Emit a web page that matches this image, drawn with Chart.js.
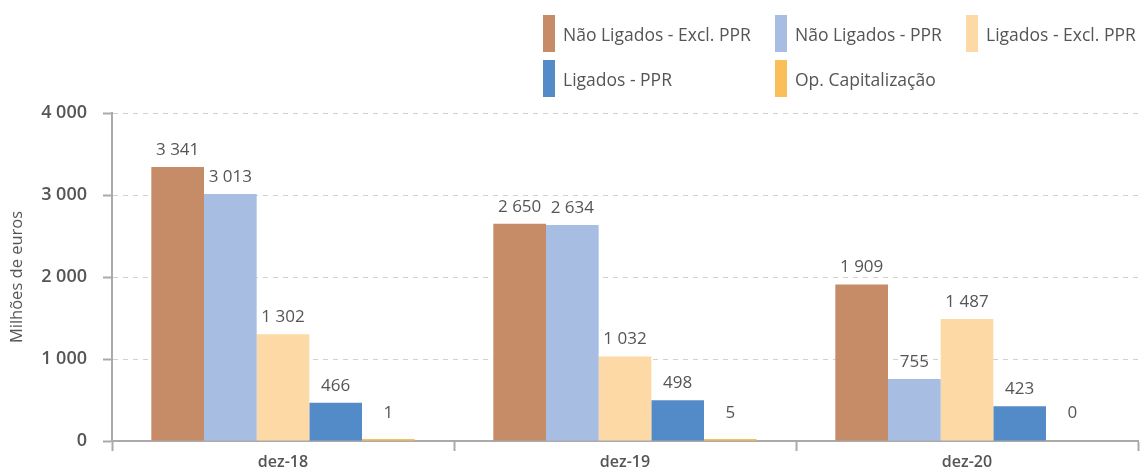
<!DOCTYPE html>
<html>
<head>
<meta charset="utf-8">
<script src="https://cdn.jsdelivr.net/npm/chart.js@4"></script>
<style>
  html, body { margin: 0; padding: 0; background: #fff; }
  #wrap { position: relative; width: 1140px; height: 472px; }
  #legend {
    position: absolute; left: 543px; top: 15px;
    display: grid; grid-template-columns: 232px 191px auto; row-gap: 8px;
    font-family: "Open Sans", sans-serif; font-size: 17.5px; color: #555; font-weight: 500;
  }
  .item { display: flex; align-items: center; height: 37px; white-space: nowrap; }
  .box { width: 12px; height: 37px; margin-right: 8px; flex: none; }
</style>
</head>
<body>
<div id="wrap">
  <canvas id="chart" width="1140" height="472"></canvas>
  <div id="legend"></div>
</div>
<script>
const categories = ['dez-18', 'dez-19', 'dez-20'];
const seriesNames = ['Não Ligados - Excl. PPR', 'Não Ligados - PPR', 'Ligados - Excl. PPR', 'Ligados - PPR', 'Op. Capitalização'];
const naoLigadosExcl = [3341, 2650, 1909];
const naoLigadosPPR = [3013, 2634, 755];
const ligadosExcl = [1302, 1032, 1487];
const ligadosPPR = [466, 498, 423];
const opCapitalizacao = [1, 5, 0];
const yTicks = [0, 1000, 2000, 3000, 4000];
const colors = ['#C68B67', '#A8BDE2', '#FDD9A5', '#538BC9', '#FBBF5A'];

const textColor = '#555';
const fontFamily = '"Open Sans", sans-serif';

function fmt(v) {
  return String(v).replace(/\B(?=(\d{3})+(?!\d))/g, ' ');
}

const allSeries = [naoLigadosExcl, naoLigadosPPR, ligadosExcl, ligadosPPR, opCapitalizacao];

// values above the bars
const valueLabels = {
  id: 'valueLabels',
  afterDatasetsDraw(chart) {
    const ctx = chart.ctx;
    const base = chart.scales.y.getPixelForValue(0);
    ctx.save();
    ctx.font = '500 17px ' + fontFamily;
    ctx.fillStyle = textColor;
    ctx.textAlign = 'center';
    ctx.textBaseline = 'middle';
    chart.data.datasets.forEach((ds, i) => {
      chart.getDatasetMeta(i).data.forEach((bar, j) => {
        const v = allSeries[i][j];
        const y = Math.min(chart.scales.y.getPixelForValue(v) - 17, base - 28);
        ctx.fillText(fmt(v), bar.x, y);
      });
    });
    ctx.restore();
  }
};

const chart = new Chart(document.getElementById('chart'), {
  type: 'bar',
  data: {
    labels: categories,
    datasets: allSeries.map((s, i) => ({
      label: seriesNames[i],
      data: s.map(v => v === 0 ? null : v),
      backgroundColor: colors[i],
      borderWidth: 0,
      minBarLength: 2,
      barPercentage: 1,
      categoryPercentage: 0.77
    }))
  },
  options: {
    responsive: false,
    animation: false,
    layout: { padding: { top: 113, right: 2, left: 0, bottom: 0 } },
    plugins: {
      legend: { display: false },
      tooltip: { enabled: false }
    },
    scales: {
      x: {
        offset: true,
        grid: {
          offset: true,
          drawOnChartArea: false,
          drawTicks: true,
          tickLength: 10,
          tickColor: '#aaa',
          tickWidth: 2
        },
        border: { color: '#aaa', width: 2 },
        ticks: {
          color: textColor,
          padding: 2,
          font: { family: fontFamily, size: 16, weight: '600' }
        },
        afterFit(s) { s.height = 31; }
      },
      y: {
        min: 0,
        max: 4000,
        afterBuildTicks(s) { s.ticks = yTicks.map(v => ({ value: v })); },
        grid: {
          color: '#d0d0d0',
          tickColor: '#aaa',
          tickLength: 9,
          tickWidth: 2,
          tickBorderDash: []
        },
        border: { color: '#aaa', width: 2, dash: [5, 5] },
        ticks: {
          color: textColor,
          padding: 16,
          font: { family: fontFamily, size: 18, weight: '600' },
          callback: v => fmt(v)
        },
        title: {
          display: true,
          text: 'Milhões de euros',
          color: textColor,
          padding: { top: 7, bottom: 0 },
          font: { family: fontFamily, size: 16.5, weight: '500' }
        },
        afterFit(s) { s.width = 112; }
      }
    }
  },
  plugins: [valueLabels]
});

// legend built from the datasets
const legend = document.getElementById('legend');
chart.data.datasets.forEach(ds => {
  const item = document.createElement('div');
  item.className = 'item';
  item.innerHTML = '<span class="box" style="background:' + ds.backgroundColor + '"></span>' + ds.label;
  legend.appendChild(item);
});
</script>
</body>
</html>
